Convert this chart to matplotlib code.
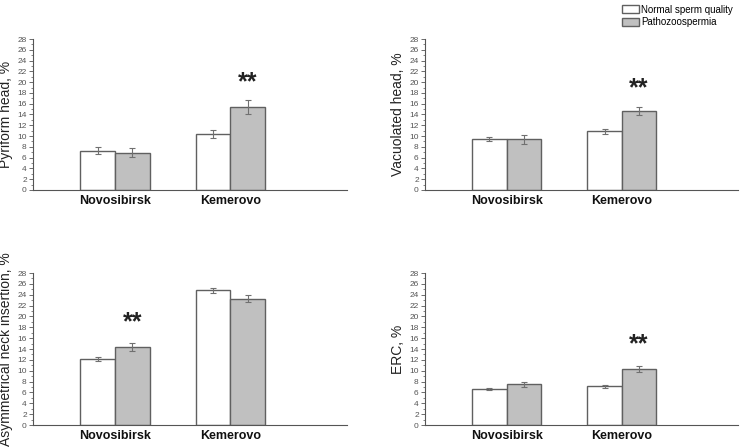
import matplotlib
matplotlib.use("Agg")
import matplotlib.pyplot as plt
import numpy as np

plt.rcParams['font.family'] = ['Liberation Sans', 'DejaVu Sans']

cities = ["Novosibirsk", "Kemerovo"]
series = ["Normal sperm quality", "Pathozoospermia"]

panel_labels = ["Pyriform head, %", "Vacuolated head, %",
                "Asymmetrical neck insertion, %", "ERC, %"]

normal_vals = [[7.3, 10.4], [9.5, 10.9], [12.2, 24.8], [6.7, 7.1]]
normal_err = [[0.6, 0.7], [0.4, 0.5], [0.4, 0.5], [0.2, 0.3]]
patho_vals = [[6.9, 15.3], [9.4, 14.6], [14.4, 23.3], [7.5, 10.3]]
patho_err = [[0.8, 1.3], [0.8, 0.7], [0.7, 0.7], [0.5, 0.5]]

# significance marks: (panel, city index)
stars = [(0, 1), (1, 1), (2, 0), (3, 1)]
star_y = [19.9, 18.8, 18.9, 14.9]

fig = plt.figure(figsize=(7.4, 4.48), dpi=100)

positions = [
    [33/740, 1-190/448, 314/740, 151/448],
    [425/740, 1-190/448, 313/740, 151/448],
    [33/740, 1-425/448, 314/740, 152/448],
    [425/740, 1-425/448, 313/740, 152/448],
]

edge = "#606060"
gray_fill = "#c0c0c0"
x = np.arange(1, len(cities)+1)
w = 0.30

for i, pos in enumerate(positions):
    ax = fig.add_axes(pos)
    b1 = ax.bar(x - w/2, normal_vals[i], w, color="white", edgecolor=edge, linewidth=1.0,
                yerr=normal_err[i], error_kw=dict(ecolor="#707070", elinewidth=0.8, capsize=2, capthick=0.8),
                label=series[0])
    b2 = ax.bar(x + w/2, patho_vals[i], w, color=gray_fill, edgecolor=edge, linewidth=1.0,
                yerr=patho_err[i], error_kw=dict(ecolor="#707070", elinewidth=0.8, capsize=2, capthick=0.8),
                label=series[1])
    ax.set_xlim(0.29, 3.01)
    ax.set_ylim(0, 28)
    ax.set_yticks(np.arange(0, 29, 2))
    ax.set_yticks(np.arange(0, 29, 1), minor=True)
    ax.set_xticks(x)
    ax.set_xticklabels(cities, fontsize=9, fontweight="bold", color="#111111")
    ax.tick_params(axis="x", length=0, pad=3.5)
    ax.tick_params(axis="y", which="major", length=3, width=0.6, color="#555555",
                   labelsize=6, labelcolor="#555555", pad=1.5)
    ax.tick_params(axis="y", which="minor", length=1.5, width=0.5, color="#555555")
    for s in ["top", "right"]:
        ax.spines[s].set_visible(False)
    for s in ["left", "bottom"]:
        ax.spines[s].set_color("#555555")
        ax.spines[s].set_linewidth(0.8)
    ax.set_ylabel(panel_labels[i], fontsize=10, color="#222222", labelpad=3)
    for (p, c), sy in zip(stars, star_y):
        if p == i:
            ax.text(x[c] + w/2, sy, "**", ha="center", va="center",
                    fontsize=18, fontweight="bold", color="#222222")
    if i == 1:
        handles = [b1, b2]

fig.legend(handles, series, loc="upper right", bbox_to_anchor=(1.0, 1.005),
           frameon=False, fontsize=7, handlelength=1.7, handleheight=0.9,
           handletextpad=0.3, labelspacing=0.25, borderpad=0.2)

fig.savefig("out.png", dpi=100)
